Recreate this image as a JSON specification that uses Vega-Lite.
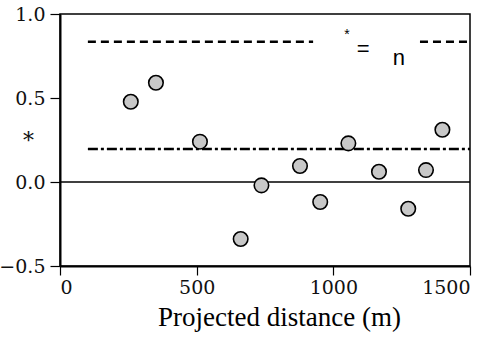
{
  "$schema": "https://vega.github.io/schema/vega-lite/v6.json",
  "autosize": {"type": "none"},
  "padding": {"left": 60, "top": 14, "right": 25, "bottom": 75},
  "width": 410,
  "height": 252,
  "background": "white",
  "config": {
    "view": {"stroke": "black", "strokeWidth": 1.5}
  },
  "datasets": {
    "pts": [
      {"x": 259, "y": 0.478},
      {"x": 351, "y": 0.591},
      {"x": 512, "y": 0.24},
      {"x": 661, "y": -0.339},
      {"x": 737, "y": -0.02},
      {"x": 878, "y": 0.095},
      {"x": 952, "y": -0.119},
      {"x": 1055, "y": 0.23},
      {"x": 1167, "y": 0.061},
      {"x": 1274, "y": -0.159},
      {"x": 1339, "y": 0.071},
      {"x": 1399, "y": 0.311}
    ],
    "dashed": [
      {"x": 102, "x2": 926, "y": 0.835},
      {"x": 1317, "x2": 1500, "y": 0.835}
    ],
    "dashdot": [
      {"x": 102, "x2": 1500, "y": 0.196}
    ],
    "zero": [
      {"x": 0, "x2": 1500, "y": 0}
    ],
    "labels": [
      {"x": 1050, "y": 0.875, "t": "*", "s": 14},
      {"x": 1109, "y": 0.79, "t": "=", "s": 22},
      {"x": 1240, "y": 0.738, "t": "n", "s": 22}
    ]
  },
  "encoding": {
    "x": {"field": "x", "type": "quantitative", "scale": {"domain": [0, 1500], "nice": false},
      "axis": {"values": [0, 500, 1000, 1500], "format": "d", "grid": false, "labelOverlap": false,
        "domainColor": "black", "domainWidth": 2, "tickColor": "black", "tickWidth": 1.2, "tickSize": 9,
        "labelFont": "DejaVu Serif", "labelFontSize": 19, "labelColor": "#111111", "labelPadding": 3,
        "title": "Projected distance (m)", "titleFont": "Liberation Serif", "titleFontWeight": "normal", "titleColor": "black",
        "titleFontSize": 27, "titleX": 219, "titleY": 59, "titleBaseline": "alphabetic", "titleAlign": "center"}},
    "y": {"field": "y", "type": "quantitative", "scale": {"domain": [-0.5, 1.0], "nice": false},
      "axis": {"values": [-0.5, 0, 0.5, 1.0], "format": ".1f", "grid": false, "labelOverlap": false,
        "domainColor": "black", "domainWidth": 2, "tickColor": "black", "tickWidth": 1.2, "tickSize": 10,
        "labelFont": "DejaVu Serif", "labelFontSize": 19, "labelColor": "#111111", "labelPadding": 5,
        "title": "*", "titleFont": "DejaVu Serif", "titleFontWeight": "normal", "titleColor": "#111111",
        "titleFontSize": 22, "titleAngle": 0, "titleX": -32, "titleY": 133, "titleBaseline": "alphabetic", "titleAlign": "center"}}
  },
  "layer": [
    {
      "data": {"name": "zero"},
      "mark": {"type": "rule", "color": "black", "strokeWidth": 1.5},
      "encoding": {"x2": {"field": "x2"}}
    },
    {
      "data": {"name": "dashed"},
      "mark": {"type": "rule", "color": "black", "strokeWidth": 2.5, "strokeDash": [8, 5]},
      "encoding": {"x2": {"field": "x2"}}
    },
    {
      "data": {"name": "dashdot"},
      "mark": {"type": "rule", "color": "black", "strokeWidth": 2.5, "strokeDash": [10, 3, 3, 3]},
      "encoding": {"x2": {"field": "x2"}}
    },
    {
      "data": {"name": "pts"},
      "mark": {"type": "point", "shape": "circle", "filled": false, "fill": "#c8c8c8", "fillOpacity": 1, "stroke": "black", "strokeWidth": 1.6, "opacity": 1, "size": 210}
    },
    {
      "data": {"name": "labels"},
      "mark": {"type": "text", "font": "Liberation Sans", "color": "black", "align": "center", "baseline": "middle"},
      "encoding": {
        "text": {"field": "t"},
        "size": {"field": "s", "type": "quantitative", "scale": null}
      }
    }
  ]
}
